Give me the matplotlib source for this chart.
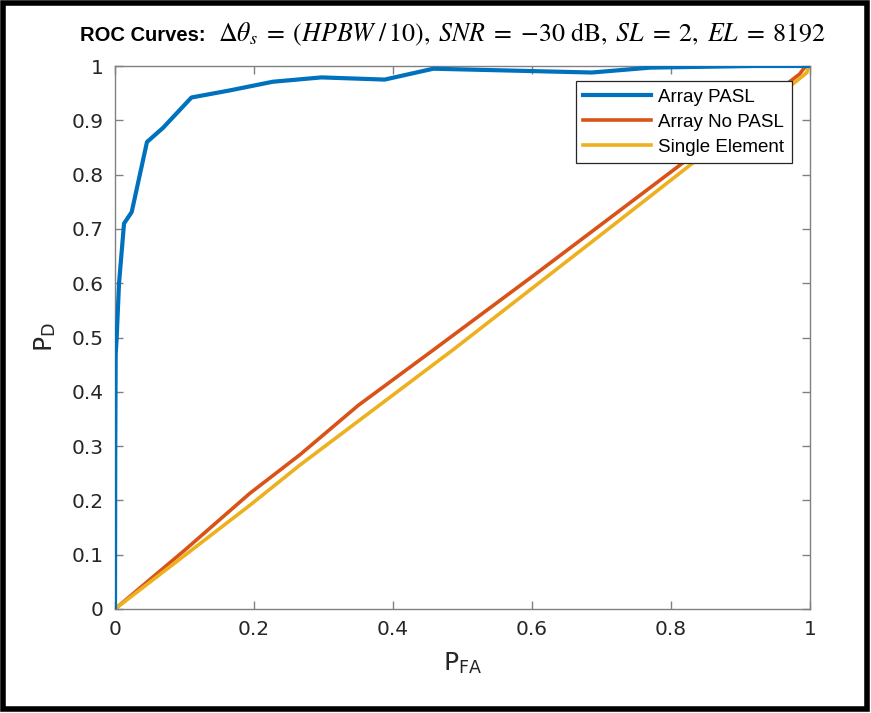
import matplotlib
matplotlib.use("Agg")
import matplotlib.pyplot as plt
from matplotlib.patches import Rectangle

# ROC data: probability of false alarm vs probability of detection
pfa_pasl = [0.0, 0.0004, 0.001, 0.0024, 0.0058, 0.013, 0.024, 0.046, 0.069,
            0.110, 0.165, 0.227, 0.297, 0.388, 0.458, 0.686, 0.77, 0.92, 1.0]
pd_pasl = [0.0, 0.30, 0.47, 0.50, 0.60, 0.71, 0.731, 0.86, 0.886,
           0.942, 0.955, 0.971, 0.979, 0.975, 0.995, 0.988, 0.997, 1.0, 1.0]

pfa_nopasl = [0.0, 0.10, 0.194, 0.266, 0.35, 0.458, 0.60, 0.80, 0.985, 0.992, 1.0]
pd_nopasl = [0.0, 0.108, 0.213, 0.284, 0.375, 0.477, 0.612, 0.805, 0.985, 0.997, 1.0]

pfa_single = [0.0, 0.194, 0.266, 0.486, 0.70, 0.90, 0.990, 0.9955, 0.997, 1.0]
pd_single = [0.0, 0.191, 0.265, 0.477, 0.69, 0.89, 0.982, 0.988, 0.996, 1.0]

series_labels = ["Array PASL", "Array No PASL", "Single Element"]
series_colors = ["#0072BD", "#D95319", "#EDB120"]

tick_vals = [0, 0.2, 0.4, 0.6, 0.8, 1]
tick_text = ["0", "0.2", "0.4", "0.6", "0.8", "1"]
ytick_vals = [0, 0.1, 0.2, 0.3, 0.4, 0.5, 0.6, 0.7, 0.8, 0.9, 1]
ytick_text = ["0", "0.1", "0.2", "0.3", "0.4", "0.5", "0.6", "0.7", "0.8", "0.9", "1"]

plt.rcParams["mathtext.fontset"] = "stix"
W, H = 871, 713
fig = plt.figure(figsize=(W / 100, H / 100), dpi=100)
fig.patch.set_facecolor("white")

ax = fig.add_axes([115 / W, 1 - 609 / H, 695 / W, 543 / H])
ax.plot(pfa_pasl, pd_pasl, color=series_colors[0], lw=3.0, label=series_labels[0],
        solid_joinstyle="round", zorder=3)
ax.plot(pfa_nopasl, pd_nopasl, color=series_colors[1], lw=2.6, label=series_labels[1],
        solid_joinstyle="round", zorder=2)
ax.plot(pfa_single, pd_single, color=series_colors[2], lw=2.6, label=series_labels[2],
        solid_joinstyle="round", zorder=2)

ax.set_xlim(0, 1)
ax.set_ylim(0, 1)
axis_gray = "#808080"
for s in ax.spines.values():
    s.set_color(axis_gray)
    s.set_linewidth(1.0)
ax.tick_params(direction="in", length=6, width=1.0, color=axis_gray,
               top=True, right=True, labelsize=14.5, labelcolor="#262626", pad=8)
ax.set_xticks(tick_vals)
ax.set_xticklabels(tick_text)
ax.set_yticks(ytick_vals)
ax.set_yticklabels(ytick_text)
narrow = ["Liberation Sans Narrow", "DejaVu Sans"]
for lbl in ax.get_xticklabels() + ax.get_yticklabels():
    lbl.set_family(narrow)

ax.set_xlabel(r"P$_{\mathregular{FA}}$", fontsize=18, family=narrow, color="#262626", labelpad=8)
ax.set_ylabel(r"P$_{\mathregular{D}}$", fontsize=18, family=narrow, color="#262626", labelpad=10)

leg = ax.legend(loc="upper right", bbox_to_anchor=(0.974, 0.972), borderaxespad=0,
                fancybox=False, framealpha=1, edgecolor="#262626", handlelength=3.6,
                prop={"family": "Liberation Sans", "size": 13.5}, borderpad=0.4,
                labelspacing=0.42, handletextpad=0.4)
leg.get_frame().set_linewidth(0.9)

# Title: bold heading followed by the parameter expression
fig.text(80 / W, 1 - 41 / H, "ROC Curves:", fontsize=14.5, fontweight="bold",
         family=["Liberation Sans Narrow", "Liberation Sans", "DejaVu Sans"],
         ha="left", va="baseline")
fig.text(826 / W, 1 - 41 / H,
         r"$\Delta\theta_s\; = \;(HPBW\;/\,10),\; SNR\; = \;{-}30\ \mathrm{dB},\; SL\; = \;2,\; EL\; = \;8192$",
         fontsize=18.6, ha="right", va="baseline")

# Black frame around the figure
fig.add_artist(Rectangle((3 / W, 4 / H), 864 / W, 706 / H, transform=fig.transFigure,
                         fill=False, edgecolor="black", linewidth=4))

fig.savefig("out.png", dpi=100)
